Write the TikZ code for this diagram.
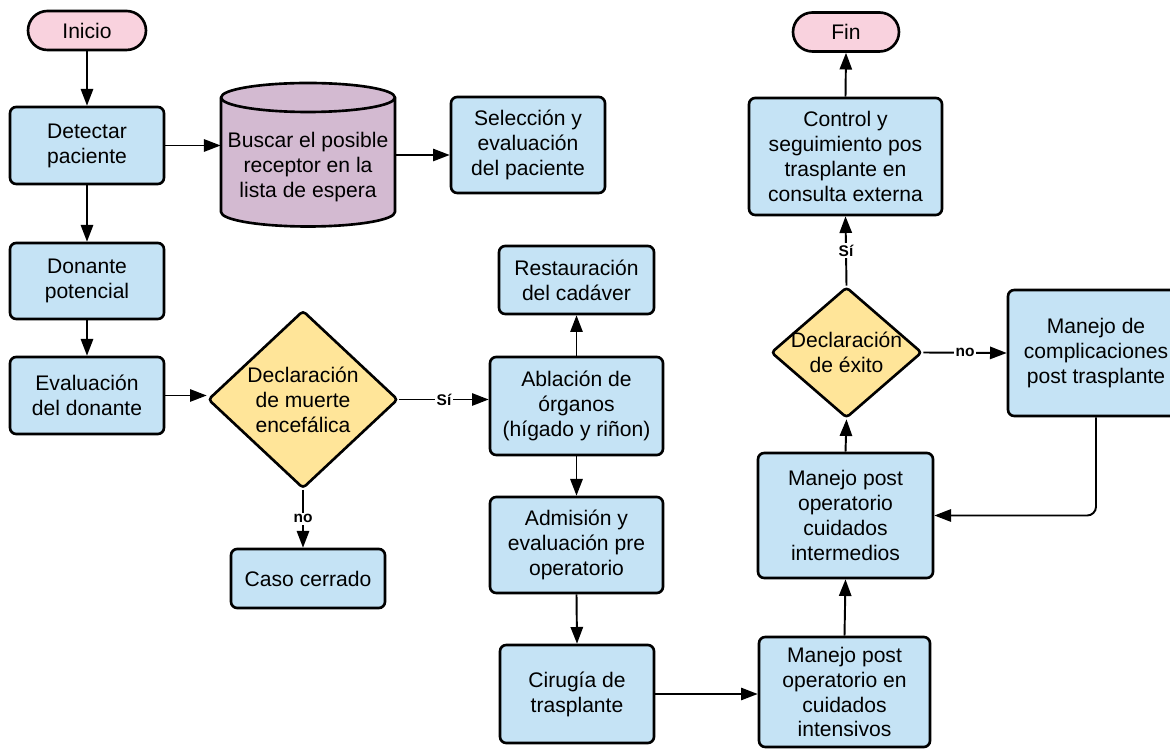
\documentclass[tikz,border=0pt]{standalone}
\usepackage{fontspec}
\setmainfont{Liberation Sans}
\usetikzlibrary{arrows.meta,shapes.geometric,shapes.misc}
\definecolor{boxblue}{RGB}{197,227,245}
\definecolor{decyellow}{RGB}{255,229,153}
\definecolor{termpink}{RGB}{249,210,222}
\definecolor{dbpurple}{RGB}{211,186,209}
\tikzset{
  base/.style={draw, line width=1.5pt, align=center, inner sep=0pt,
    font=\fontsize{12}{14.2}\selectfont},
  box/.style={base, rectangle, rounded corners=3.5pt, fill=boxblue},
  term/.style={base, rounded rectangle, fill=termpink},
  decision/.style={base, diamond, rounded corners=2pt, fill=decyellow},
  cylbody/.style={fill=dbpurple, draw, line width=1.5pt, line join=round},
  txt/.style={align=center, inner sep=0pt, font=\fontsize{12}{14.2}\selectfont},
  conn/.style={line width=1.1pt, -{Triangle[length=9.5pt, width=7pt]}},
  lbl/.style={fill=white, inner sep=1pt, font=\bfseries\fontsize{8.8}{10}\selectfont},
}
\begin{document}
\begin{tikzpicture}[x=0.02cm, y=-0.02cm]
\useasboundingbox (0,0) rectangle (1170,749);

% terminals
\node[term, minimum width=2.36cm, minimum height=0.78cm] (inicio) at (87,30.5) {Inicio};
\node[term, minimum width=2.12cm, minimum height=0.78cm] (fin) at (846,32) {Fin};

% left column
\node[box, minimum width=3.08cm, minimum height=1.54cm] (det) at (87,145.5) {Detectar\\paciente};
\node[box, minimum width=3.08cm, minimum height=1.52cm] (don) at (87,281) {Donante\\potencial};
\node[box, minimum width=3.08cm, minimum height=1.54cm] (eva) at (87,395.5) {Evaluación\\del donante};

% cylinder
\path[cylbody] (221,97.5) -- (221,212)
  arc[start angle=180, end angle=360, x radius=1.74cm, y radius=0.29cm]
  -- (395,97.5)
  arc[start angle=0, end angle=180, x radius=1.74cm, y radius=0.29cm] -- cycle;
\draw[line width=1.5pt] (221,97.5) arc[start angle=180, end angle=360, x radius=1.74cm, y radius=0.29cm];
\node[minimum width=3.48cm, minimum height=2.88cm, inner sep=0pt] (cyl) at (308,155) {};
\node[txt] (cyltext) at (308,167) {Buscar el posible\\receptor en la\\lista de espera};

\node[box, minimum width=3.08cm, minimum height=1.92cm] (sel) at (528,145) {Selección y\\evaluación\\del paciente};

% decision 1
\node[decision, minimum width=3.8cm, minimum height=3.56cm] (d1) at (303,399.5) {Declaración\\de muerte\\encefálica};
\node[box, minimum width=3.08cm, minimum height=1.18cm] (caso) at (308,578.5) {Caso cerrado};

% middle column
\node[box, minimum width=3.10cm, minimum height=1.36cm] (rest) at (576.5,280) {Restauración\\del cadáver};
\node[box, minimum width=3.46cm, minimum height=1.96cm] (abl) at (576.5,406) {Ablación de\\órganos\\(hígado y riñon)};
\node[box, minimum width=3.46cm, minimum height=1.92cm] (adm) at (576.5,545) {Admisión y\\evaluación pre\\operatorio};
\node[box, minimum width=3.08cm, minimum height=1.96cm] (cir) at (577,694) {Cirugía de\\trasplante};

% right column
\node[box, minimum width=3.42cm, minimum height=2.2cm] (inten) at (844.5,692) {Manejo post\\operatorio en\\cuidados\\intensivos};
\node[box, minimum width=3.5cm, minimum height=2.5cm] (inter) at (845.5,515.5) {Manejo post\\operatorio\\cuidados\\intermedios};
\node[decision, inner xsep=-6pt, aspect=1.15, minimum width=3.02cm, minimum height=2.62cm] (d2) at (846.5,352.5) {Declaración\\de éxito};
\node[box, minimum width=3.86cm, minimum height=2.34cm] (ctrl) at (845.5,156.5) {Control y\\seguimiento pos\\trasplante en\\consulta externa};
\node[box, minimum width=3.52cm, minimum height=2.52cm] (comp) at (1096,353) {Manejo de\\complicaciones\\post trasplante};

% connectors
\draw[conn] (inicio.south) -- (det.north);
\draw[conn] (det.east) -- (det.east -| cyl.west);
\draw[conn] (cyl.east) -- (cyl.east -| sel.west);
\draw[conn] (det.south) -- (don.north);
\draw[conn] (don.south) -- (eva.north);
\draw[conn] (eva.east) -- (eva.east -| d1.west);
\draw[conn] (d1.east) -- (d1.east -| abl.west) node[midway, lbl] {Sí};
\draw[conn] (d1.south) -- (d1.south |- caso.north) node[midway, lbl] {no};
\draw[conn] (abl.north) -- (rest.south);
\draw[conn] (abl.south) -- (adm.north);
\draw[conn] (adm.south) -- (cir.north);
\draw[conn] (cir.east) -- (cir.east -| inten.west);
\draw[conn] (inten.north) -- (inter.south);
\draw[conn] (inter.north) -- (d2.south);
\draw[conn] (d2.north) -- (ctrl.south) node[midway, lbl] {Sí};
\draw[conn] (ctrl.north) -- (fin.south);
\draw[conn] (d2.east) -- (comp.west) node[midway, lbl] {no};
\draw[conn, rounded corners=5pt] (comp.south) -- (comp.south |- inter.east) -- (inter.east);
\end{tikzpicture}
\end{document}
